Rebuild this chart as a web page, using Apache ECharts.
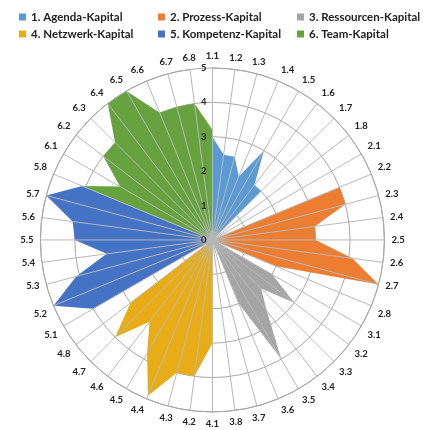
<!DOCTYPE html>
<html>
<head>
<meta charset="utf-8">
<script src="https://cdn.jsdelivr.net/npm/echarts@6/dist/echarts.min.js"></script>
<style>
  html, body { margin: 0; padding: 0; background: #ffffff; }
  #chart { width: 430px; height: 430px; }
</style>
</head>
<body>
<div id="chart"></div>
<script>
// Indicator labels, clockwise from the top
const items = [
  '1.1','1.2','1.3','1.4','1.5','1.6','1.7','1.8',
  '2.1','2.2','2.3','2.4','2.5','2.6','2.7','2.8',
  '3.1','3.2','3.3','3.4','3.5','3.6','3.7','3.8',
  '4.1','4.2','4.3','4.4','4.5','4.6','4.7','4.8',
  '5.1','5.2','5.3','5.4','5.5','5.6','5.7','5.8',
  '6.1','6.2','6.3','6.4','6.5','6.6','6.7','6.8'
];

const seriesNames = [
  '1. Agenda-Kapital', '2. Prozess-Kapital', '3. Ressourcen-Kapital',
  '4. Netzwerk-Kapital', '5. Kompetenz-Kapital', '6. Team-Kapital'
];

const colors = ['#5b9bd5', '#ed7d31', '#a5a5a5', '#e8ad16', '#4472c4', '#66a33f'];

// Scores per indicator (rows = groups 1..6)
const agenda = [
  3.0, 2.5, 2.5, 2.0, 3.0, 2.0, 2.0, 0,
  0, 0, 0, 0, 0, 0, 0, 0,
  0, 0, 0, 0, 0, 0, 0, 0,
  0, 0, 0, 0, 0, 0, 0, 0,
  0, 0, 0, 0, 0, 0, 0, 0,
  0, 0, 0, 0, 0, 0, 0, 0
];
const prozess = [
  0, 0, 0, 0, 0, 0, 0, 0,
  0, 4.0, 4.0, 3.0, 3.0, 4.1, 5.0, 2.0,
  0, 0, 0, 0, 0, 0, 0, 0,
  0, 0, 0, 0, 0, 0, 0, 0,
  0, 0, 0, 0, 0, 0, 0, 0,
  0, 0, 0, 0, 0, 0, 0, 0
];
const ressourcen = [
  0, 0, 0, 0, 0, 0, 0, 0,
  0, 0, 0, 0, 0, 0, 0, 0,
  2.0, 3.0, 2.0, 2.6, 4.0, 2.0, 0, 0,
  0, 0, 0, 0, 0, 0, 0, 0,
  0, 0, 0, 0, 0, 0, 0, 0,
  0, 0, 0, 0, 0, 0, 0, 0
];
const netzwerk = [
  0, 0, 0, 0, 0, 0, 0, 0,
  0, 0, 0, 0, 0, 0, 0, 0,
  0, 0, 0, 0, 0, 0, 0, 0,
  3.0, 4.0, 4.0, 4.9, 3.8, 3.0, 4.0, 3.0,
  0, 0, 0, 0, 0, 0, 0, 0,
  0, 0, 0, 0, 0, 0, 0, 0
];
const kompetenz = [
  0, 0, 0, 0, 0, 0, 0, 0,
  0, 0, 0, 0, 0, 0, 0, 0,
  0, 0, 0, 0, 0, 0, 0, 0,
  0, 0, 0, 0, 0, 0, 0, 0,
  4.0, 5.0, 4.1, 3.1, 4.0, 4.1, 5.0, 4.1,
  0, 0, 0, 0, 0, 0, 0, 0
];
const team = [
  3.2, 0, 0, 0, 0, 0, 0, 0,
  0, 0, 0, 0, 0, 0, 0, 0,
  0, 0, 0, 0, 0, 0, 0, 0,
  0, 0, 0, 0, 0, 0, 0, 0,
  0, 0, 0, 0, 0, 0, 0, 4.1,
  3.1, 4.0, 4.0, 5.0, 5.0, 4.0, 4.0, 4.0
];

const radialTicks = [0, 1, 2, 3, 4, 5];

const seriesValues = [agenda, prozess, ressourcen, netzwerk, kompetenz, team];

// The radar lays indicators out counter-clockwise, so walk the list backwards
const order = items.map((_, k) => (items.length - k) % items.length);
const reorder = arr => order.map(i => arr[i]);

const CENTER = ['49.4%', '55.8%'];
const RADIUS = 172;
const GRID = '#a6a6a6';
const SPOKE = '#b8b8b8';
const LABEL_FONT = 'Lato, "Open Sans", sans-serif';

// Legend laid out as a 3 x 2 table
const legendCols = [14, 153, 292];
const legendRows = [6, 23];
const legends = seriesNames.map((name, i) => ({
  data: [name],
  left: legendCols[i % 3],
  top: legendRows[Math.floor(i / 3)],
  itemWidth: 7,
  itemHeight: 7,
  icon: 'rect',
  textStyle: {
    fontSize: 11.5,
    fontWeight: 'bold',
    color: '#222',
    fontFamily: LABEL_FONT
  }
}));

const chart = echarts.init(document.getElementById('chart'), null, { renderer: 'canvas' });

chart.setOption({
  animation: false,
  color: colors,
  legend: legends,
  // Concentric circles underneath the filled areas
  radar: {
    center: CENTER,
    radius: RADIUS,
    startAngle: 90,
    shape: 'circle',
    splitNumber: radialTicks.length - 1,
    indicator: reorder(items).map(name => ({ name, min: radialTicks[0], max: radialTicks[radialTicks.length - 1] })),
    axisName: { show: false },
    axisLine: { show: false },
    splitArea: { show: false },
    splitLine: { lineStyle: { color: GRID, width: 1 } },
    z: 0
  },
  // Spokes, outer ring, category and value labels on top of the areas
  polar: { center: CENTER, radius: RADIUS },
  angleAxis: {
    type: 'category',
    data: items,
    boundaryGap: false,
    startAngle: 90,
    clockwise: true,
    z: 10,
    axisLine: { lineStyle: { color: GRID, width: 1 } },
    axisTick: { show: false },
    axisLabel: {
      interval: 0,
      margin: 7,
      fontSize: 9.5,
      fontWeight: 'bold',
      color: '#222',
      fontFamily: LABEL_FONT
    },
    splitLine: { show: true, interval: 0, lineStyle: { color: SPOKE, width: 1 } }
  },
  radiusAxis: {
    type: 'value',
    min: radialTicks[0],
    max: radialTicks[radialTicks.length - 1],
    interval: 1,
    z: 10,
    axisLine: { show: false },
    axisTick: { show: false },
    splitLine: { show: false },
    axisLabel: {
      margin: 6,
      fontSize: 9.5,
      fontWeight: 'bold',
      color: '#222',
      fontFamily: LABEL_FONT
    }
  },
  series: seriesValues.map((vals, idx) => ({
    type: 'radar',
    name: seriesNames[idx],
    z: 2,
    symbol: 'none',
    lineStyle: { width: 0 },
    areaStyle: { color: colors[idx], opacity: 1 },
    data: [{ name: seriesNames[idx], value: reorder(vals) }]
  }))
});
</script>
</body>
</html>
